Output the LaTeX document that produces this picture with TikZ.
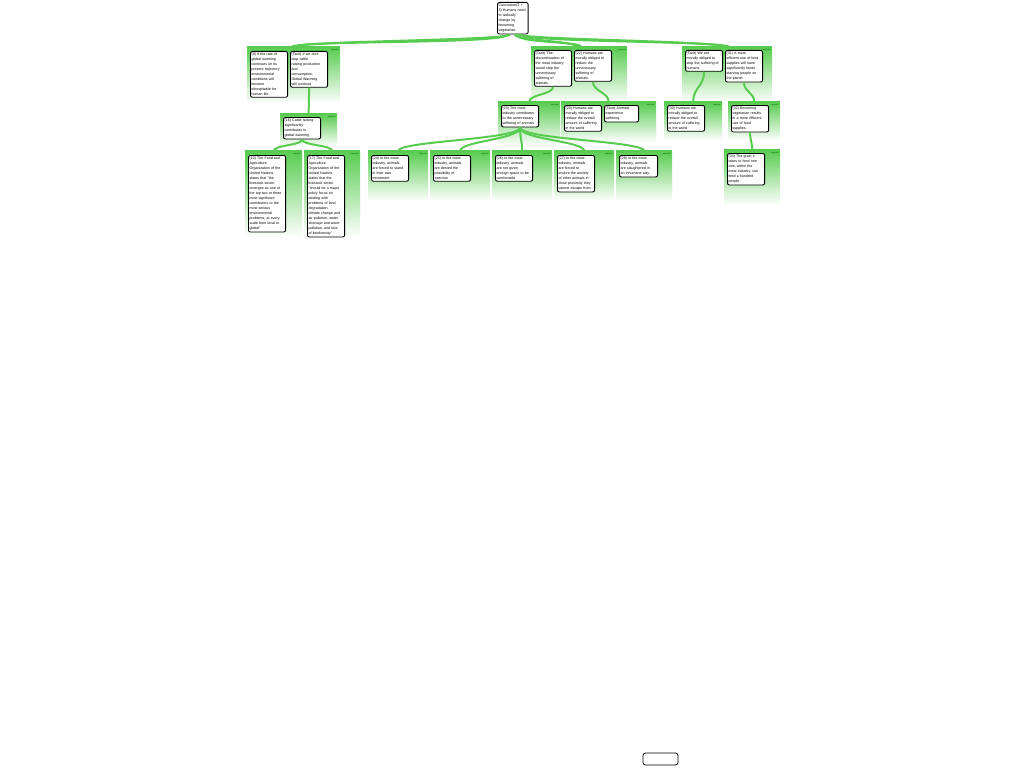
\documentclass[tikz,border=0pt]{standalone}
\usepackage{fontspec}
\setmainfont{Liberation Sans}
\usetikzlibrary{calc}
\definecolor{grn}{RGB}{88,204,80}
\begin{document}
\begin{tikzpicture}[x=1pt,y=-1pt,
  prem/.style={draw=black, line width=0.9pt, rounded corners=2pt, fill=white,
    anchor=north west, align=left, inner xsep=1.1pt, inner ysep=1.6pt,
    font=\fontsize{3.6}{5}\selectfont, text width=#1},
  prem/.default=35pt,
  grp/.style={anchor=north west, inner sep=0pt, top color=grn, bottom color=white, draw=none},
  bar/.style={draw=grn, line width=1.6pt},
  sup/.style={anchor=north east, inner sep=0.5pt, font=\fontsize{2}{2.2}\selectfont, text=black!65!green},
  conn/.style={draw=grn, line width=2pt},
  legendbox/.style={draw=black, line width=0.8pt, rounded corners=2.5pt, fill=white, minimum width=35pt, minimum height=12pt}
]
\useasboundingbox[fill=white] (0,0) rectangle (1024,768);

% ---------- groups ----------
\node[grp, minimum width=93pt, minimum height=56pt] (g1) at (247,47) {};
\node[grp, minimum width=57pt, minimum height=32pt] (g2) at (280,114) {};
\node[grp, minimum width=57pt, minimum height=86pt] (g3) at (245,151) {};
\node[grp, minimum width=56pt, minimum height=86pt] (g4) at (304,151) {};
\node[grp, minimum width=96pt, minimum height=55pt] (g5) at (531,47) {};
\node[grp, minimum width=62pt, minimum height=44pt] (g6) at (498,102) {};
\node[grp, minimum width=95pt, minimum height=40pt] (g7) at (561,102) {};
\node[grp, minimum width=90pt, minimum height=55pt] (g8) at (682,47) {};
\node[grp, minimum width=58pt, minimum height=38pt] (g9) at (664,102) {};
\node[grp, minimum width=52pt, minimum height=38pt] (g10) at (728,102) {};
\node[grp, minimum width=56pt, minimum height=55pt] (g11) at (724,150) {};
\node[grp, minimum width=60pt, minimum height=50pt] (g12) at (368,151) {};
\node[grp, minimum width=60pt, minimum height=50pt] (g13) at (430,151) {};
\node[grp, minimum width=60pt, minimum height=50pt] (g14) at (492,151) {};
\node[grp, minimum width=60pt, minimum height=50pt] (g15) at (554,151) {};
\node[grp, minimum width=56pt, minimum height=50pt] (g16) at (616,151) {};

\foreach \g in {g1,g2,g3,g4,g5,g6,g7,g8,g9,g10,g11,g12,g13,g14,g15,g16}{
  \draw[bar] (\g.north west) -- (\g.north east);
  \node[sup] at ($(\g.north east)+(-1,2)$) {supports};
}

% ---------- nodes ----------
\node[prem=28.5pt] (c) at (497,2) {Conclusion(2 +\\3) Humans need\\to radically\\change by\\becoming\\vegetarian.};

\node[prem] (p9) at (250,51) {(9) If the rate of\\global warming\\continues on its\\present trajectory\\environmental\\conditions will\\become\\inhospitable for\\human life.};
\node[prem] (tl) at (290,51) {(Tacit) If we dont\\stop cattle\\raising production\\and\\consumption,\\Global Warming\\will continue};

\node[prem] (p16) at (283,117) {(16) Cattle raising\\significantly\\contributes to\\global warming.};

\node[prem] (p10) at (248,155) {(10) The Food and\\Agriculture\\Organization of the\\United Nations\\states that "the\\livestock sector\\emerges as one of\\the top two or three\\most significant\\contributors to the\\most serious\\environmental\\problems, at every\\scale from local to\\global"};
\node[prem] (p17) at (307,155) {(17) The Food and\\Agriculture\\Organization of the\\United Nations\\states that the\\livestock sector\\"should be a major\\policy focus on\\dealing with\\problems of land\\degradation,\\climate change and\\air pollution, water\\shortage and water\\pollution, and loss\\of biodiversity"};

\node[prem] (tm) at (534,50) {(Tacit) The\\discontinuation of\\the meat industry\\would stop the\\unnecessary\\suffering of\\animals.};
\node[prem] (p22) at (574,50) {(22) Humans are\\morally obliged to\\reduce the\\unnecessary\\suffering of\\animals.};

\node[prem] (p23) at (501,105) {(23) The meat\\industry contributes\\to the unnecessary\\suffering of animals.};
\node[prem] (p20) at (564,105) {(20) Humans are\\morally obliged to\\reduce the overall\\amount of suffering\\in the world};
\node[prem=32pt] (ta) at (604,105) {(Tacit) Animals\\experience\\suffering.};

\node[prem] (tr) at (685,50) {(Tacit) We are\\morally obliged to\\stop the suffering of\\humans};
\node[prem] (p31) at (725,50) {(31) A more\\efficient use of food\\supplies will have\\significantly fewer\\starving people on\\the planet};

\node[prem] (p30) at (667,105) {(30) Humans are\\morally obliged to\\reduce the overall\\amount of suffering\\in the world};
\node[prem] (p32) at (731,105) {(32) Becoming\\vegetarian results\\in a more efficient\\use of food\\supplies.};

\node[prem] (p33) at (727,153) {(33) The grain it\\takes to feed one\\cow, within the\\meat industry, can\\feed a hundred\\people};

\node[prem] (p24) at (371,155) {(24) In the meat\\industry, animals\\are forced to stand\\in their own\\excrement};
\node[prem] (p25) at (433,155) {(25) In the meat\\industry, animals\\are denied the\\possibility of\\exercise};
\node[prem] (p26) at (495,155) {(26) In the meat\\industry, animals\\are not given\\enough space to be\\comfortable};
\node[prem] (p27) at (557,155) {(27) In the meat\\industry, animals\\are forced to\\endure the anxiety\\of other animals in\\close proximity they\\cannot escape from.};
\node[prem=36pt] (p28) at (619,155) {(28) In the meat\\industry, animals\\are slaughtered in\\an inhumane way.};

\node[legendbox] (legend) at (660.5,759) {};

% ---------- connectors ----------
\draw[conn] ($(c.south)+(-3,0)$) .. controls +(0,6) and +(0,-6) .. ($(g1.north)+(-2,0)$);
\draw[conn] ($(c.south)+(-5,0)$) .. controls +(0,10) and +(0,-7) .. ($(g1.north)+(2,0)$);
\draw[conn] ($(c.south)+(2,0)$) .. controls +(0,6) and +(0,-6) .. ($(g5.north)+(-2,0)$);
\draw[conn] ($(c.south)+(4,0)$) .. controls +(0,9) and +(0,-6) .. ($(g5.north)+(2,0)$);
\draw[conn] ($(c.south)+(6,0)$) .. controls +(0,5) and +(0,-6) .. ($(g8.north)+(-2,0)$);
\draw[conn] ($(c.south)+(8,0)$) .. controls +(0,8) and +(0,-6) .. ($(g8.north)+(2,0)$);

\draw[conn] (tl.south) .. controls +(0,10) and +(0,-10) .. (g2.north);
\draw[conn] (p16.south) .. controls +(0,6) and +(0,-6) .. (g3.north);
\draw[conn] (p16.south) .. controls +(0,6) and +(0,-6) .. (g4.north);

\draw[conn] (tm.south) .. controls +(0,8) and +(0,-8) .. (g6.north);
\draw[conn] (p22.south) .. controls +(0,10) and +(0,-10) .. (g7.north);

\foreach \g in {g12,g13,g14,g15,g16}{
  \draw[conn] (p23.south) .. controls +(0,12) and +(0,-10) .. (\g.north);
}

\draw[conn] (tr.south) .. controls +(0,15) and +(0,-15) .. (g9.north);
\draw[conn] (p31.south) .. controls +(0,10) and +(0,-10) .. (g10.north);
\draw[conn] (p32.south) .. controls +(0,8) and +(0,-8) .. (g11.north);
\end{tikzpicture}
\end{document}
